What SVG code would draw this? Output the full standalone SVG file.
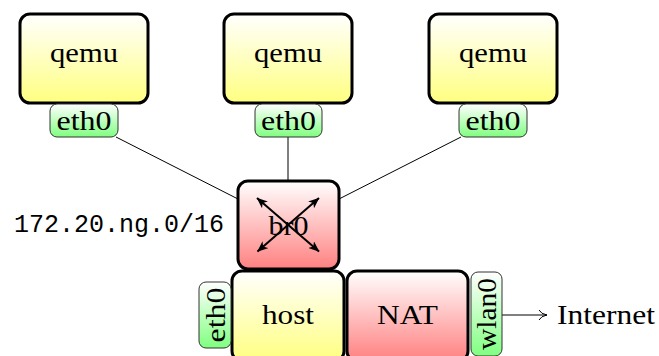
<svg xmlns="http://www.w3.org/2000/svg" width="659" height="356" viewBox="0 0 659 356">
<defs>
<linearGradient id="gy" x1="0" y1="0" x2="0" y2="1"><stop offset="0" stop-color="#ffffff"/><stop offset="1" stop-color="#ffff80"/></linearGradient>
<linearGradient id="gr" x1="0" y1="0" x2="0" y2="1"><stop offset="0" stop-color="#ffffff"/><stop offset="1" stop-color="#ff8080"/></linearGradient>
<linearGradient id="gg" x1="0" y1="0" x2="0" y2="1"><stop offset="0" stop-color="#ffffff"/><stop offset="1" stop-color="#80ff80"/></linearGradient>
<marker id="st" viewBox="0 0 11 9" refX="10.5" refY="4.5" markerWidth="11" markerHeight="9" markerUnits="userSpaceOnUse" orient="auto-start-reverse">
<path d="M0,0 L11,4.5 L0,9 L3,4.5 Z" fill="#000"/>
</marker>
<marker id="to" viewBox="0 0 10 12" refX="9" refY="6" markerWidth="10" markerHeight="12" markerUnits="userSpaceOnUse" orient="auto">
<path d="M1,1 Q3,5 9,6 Q3,7 1,11" fill="none" stroke="#000" stroke-width="1"/>
</marker>
</defs>
<style>
.big{fill:url(#gy);stroke:#000;stroke-width:3}
.red{fill:url(#gr);stroke:#000;stroke-width:3}
.port{fill:url(#gg);stroke:#333;stroke-width:1}
.t{font-family:"Liberation Serif",serif;font-size:28px;fill:#000}
.m{font-family:"Liberation Mono",monospace;font-size:25px;fill:#000}
.c{stroke:#000;stroke-width:1;fill:none}
.x{stroke:#000;stroke-width:2;fill:none}
</style>
<g id="connectors">
<line class="c" x1="116" y1="137" x2="238" y2="199"/>
<line class="c" x1="288" y1="137" x2="288" y2="181"/>
<line class="c" x1="461" y1="137" x2="339" y2="199"/>
<line class="c" x1="502" y1="315" x2="547" y2="315" marker-end="url(#to)"/>
</g>
<g id="qemu1"><rect class="big" x="20" y="14" width="128" height="89" rx="10"/><text class="t" x="84" y="62" text-anchor="middle" textLength="68" lengthAdjust="spacingAndGlyphs">qemu</text></g>
<g id="qemu2"><rect class="big" x="224" y="14" width="128" height="89" rx="10"/><text class="t" x="288" y="62" text-anchor="middle" textLength="68" lengthAdjust="spacingAndGlyphs">qemu</text></g>
<g id="qemu3"><rect class="big" x="429" y="14" width="128" height="89" rx="10"/><text class="t" x="493" y="62" text-anchor="middle" textLength="68" lengthAdjust="spacingAndGlyphs">qemu</text></g>
<g id="eth0-1"><rect class="port" x="50" y="104" width="68" height="33" rx="7"/><text class="t" x="84" y="130" text-anchor="middle" textLength="55" lengthAdjust="spacingAndGlyphs">eth0</text></g>
<g id="eth0-2"><rect class="port" x="255" y="104" width="67" height="33" rx="7"/><text class="t" x="288.5" y="130" text-anchor="middle" textLength="55" lengthAdjust="spacingAndGlyphs">eth0</text></g>
<g id="eth0-3"><rect class="port" x="459" y="104" width="68" height="33" rx="7"/><text class="t" x="493" y="130" text-anchor="middle" textLength="55" lengthAdjust="spacingAndGlyphs">eth0</text></g>
<g id="br0">
<rect class="red" x="238" y="181" width="101" height="88" rx="10"/>
<text class="t" x="288.5" y="235" text-anchor="middle" textLength="40" lengthAdjust="spacingAndGlyphs">br0</text>
<line class="x" x1="257" y1="198" x2="319" y2="251.5" marker-start="url(#st)" marker-end="url(#st)"/>
<line class="x" x1="319" y1="198" x2="257.5" y2="251.5" marker-start="url(#st)" marker-end="url(#st)"/>
</g>
<g id="subnet"><text class="m" x="14" y="232">172.20.ng.0/16</text></g>
<g id="host"><rect class="big" x="232" y="271" width="112" height="90" rx="10"/><text class="t" x="288" y="324" text-anchor="middle" textLength="52" lengthAdjust="spacingAndGlyphs">host</text></g>
<g id="nat"><rect class="red" x="347" y="271" width="121" height="90" rx="10"/><text class="t" x="407.5" y="324" text-anchor="middle" textLength="61" lengthAdjust="spacingAndGlyphs">NAT</text></g>
<g id="eth0-host"><rect class="port" x="199" y="282" width="32" height="66" rx="7"/><text class="t" transform="translate(225,315) rotate(-90)" x="0" y="0" text-anchor="middle" textLength="55" lengthAdjust="spacingAndGlyphs">eth0</text></g>
<g id="wlan0"><rect class="port" x="471" y="272" width="31" height="84" rx="7"/><text class="t" transform="translate(496,314) rotate(-90)" x="0" y="0" text-anchor="middle" textLength="72" lengthAdjust="spacingAndGlyphs">wlan0</text></g>
<g id="internet"><text class="t" x="557" y="324" textLength="98" lengthAdjust="spacingAndGlyphs">Internet</text></g>
</svg>
